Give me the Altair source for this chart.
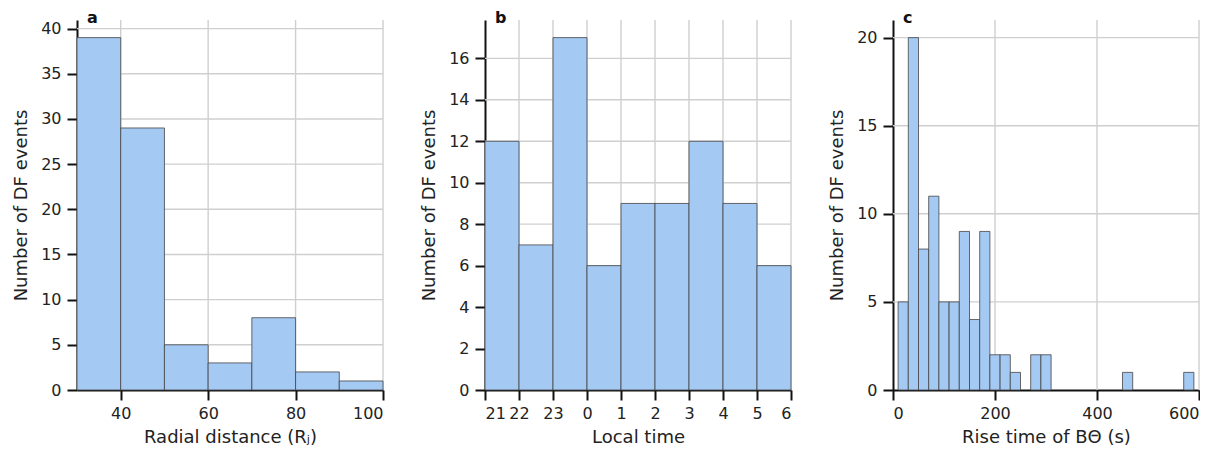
import altair as alt
import pandas as pd

# ---- data ----
# Panel a: radial distance bins (R_J)
a_edges = [30, 40, 50, 60, 70, 80, 90, 100]
a_counts = [39, 29, 5, 3, 8, 2, 1]
a_xticks = [40, 60, 80, 100]
a_yticks = [0, 5, 10, 15, 20, 25, 30, 35, 40]

# Panel b: local time bins (21 h .. 6 h)
b_labels = ["21", "22", "23", "0", "1", "2", "3", "4", "5", "6"]
b_counts = [12, 7, 17, 6, 9, 9, 12, 9, 6]
b_yticks = [0, 2, 4, 6, 8, 10, 12, 14, 16]

# Panel c: rise time bins (s), width 20 starting at 10
c_starts = [10, 30, 50, 70, 90, 110, 130, 150, 170, 190, 210, 230, 250, 270, 290,
            310, 330, 350, 370, 390, 410, 430, 450, 470, 490, 510, 530, 550, 570]
c_counts = [5, 20, 8, 11, 5, 5, 9, 4, 9, 2, 2, 1, 0, 2, 2,
            0, 0, 0, 0, 0, 0, 0, 1, 0, 0, 0, 0, 0, 1]
c_width = 20
c_xticks = [0, 200, 400, 600]
c_yticks = [0, 5, 10, 15, 20]

YTITLE = "Number of DF events"
FILL = "#a4c9f3"
EDGE = "#444444"
GRID = "#cfcfcf"
FONT = "DejaVu Sans"
W, H = 306, 370


def panel(df, xscale, yscale, xaxis, yaxis, xgrid, ygrid, letter):
    gx = alt.Chart(pd.DataFrame({"x0": xgrid})).mark_rule(color=GRID, strokeWidth=1.4).encode(
        x=alt.X("x0:Q", scale=xscale, axis=xaxis)
    )
    gy = alt.Chart(pd.DataFrame({"n": ygrid})).mark_rule(color=GRID, strokeWidth=1.4).encode(
        y=alt.Y("n:Q", scale=yscale, axis=yaxis)
    )
    bars = alt.Chart(df).mark_rect(fill=FILL, stroke=EDGE, strokeWidth=0.8, opacity=1).encode(
        x=alt.X("x0:Q", scale=xscale, axis=xaxis),
        x2="x1:Q",
        y=alt.Y("n:Q", scale=yscale, axis=yaxis),
        y2=alt.datum(0),
    )
    return alt.layer(gx, gy, bars).properties(
        width=W,
        height=H,
        title=alt.TitleParams(letter, anchor="start", frame="group", dx=10, offset=-7,
                              fontSize=16, fontWeight="bold", font=FONT, color="#111111"),
    )


# panel a
dfa = pd.DataFrame({"x0": a_edges[:-1], "x1": a_edges[1:], "n": a_counts})
pa = panel(
    dfa,
    alt.Scale(domain=[30, 100], nice=False, zero=False),
    alt.Scale(domain=[0, 40.95], nice=False),
    alt.Axis(values=a_xticks, title="Radial distance (Rⱼ)"),
    alt.Axis(values=a_yticks, title=YTITLE),
    a_xticks,
    a_yticks[1:],
    "a",
)

# panel b
dfb = pd.DataFrame({"x0": list(range(len(b_counts))),
                    "x1": list(range(1, len(b_counts) + 1)),
                    "n": b_counts})
label_arr = "[" + ",".join("'%s'" % s for s in b_labels) + "]"
pb = panel(
    dfb,
    alt.Scale(domain=[0, len(b_counts)], nice=False, zero=False),
    alt.Scale(domain=[0, 17.85], nice=False),
    alt.Axis(values=list(range(len(b_labels))), title="Local time",
             labelExpr=label_arr + "[datum.value]"),
    alt.Axis(values=b_yticks, title=YTITLE),
    list(range(1, len(b_labels))),
    b_yticks[1:],
    "b",
)

# panel c
dfc = pd.DataFrame({"x0": c_starts, "x1": [s + c_width for s in c_starts], "n": c_counts})
dfc = dfc[dfc["n"] > 0]
pc = panel(
    dfc,
    alt.Scale(domain=[0, 600], nice=False, zero=False),
    alt.Scale(domain=[0, 21], nice=False),
    alt.Axis(values=c_xticks, title="Rise time of BΘ (s)"),
    alt.Axis(values=c_yticks, title=YTITLE),
    c_xticks[1:],
    c_yticks[1:],
    "c",
)

chart = alt.hconcat(pa, pb, pc, spacing=36).properties(
    padding={"left": 4, "top": 2, "right": 0, "bottom": 0}
).configure_view(stroke=None).configure_axis(
    grid=False,
    domainColor="#111111",
    domainWidth=2,
    tickColor="#111111",
    tickWidth=2,
    tickSize=10,
    labelFont=FONT,
    labelFontSize=16,
    labelColor="#222222",
    labelPadding=5,
    titleFont=FONT,
    titleFontSize=18,
    titleFontWeight="normal",
    titleColor="#222222",
    titlePadding=7,
    zindex=1,
).configure_axisY(titlePadding=10, labelPadding=6)

chart.save("out.html", embed_options={"renderer": "svg", "actions": False})
